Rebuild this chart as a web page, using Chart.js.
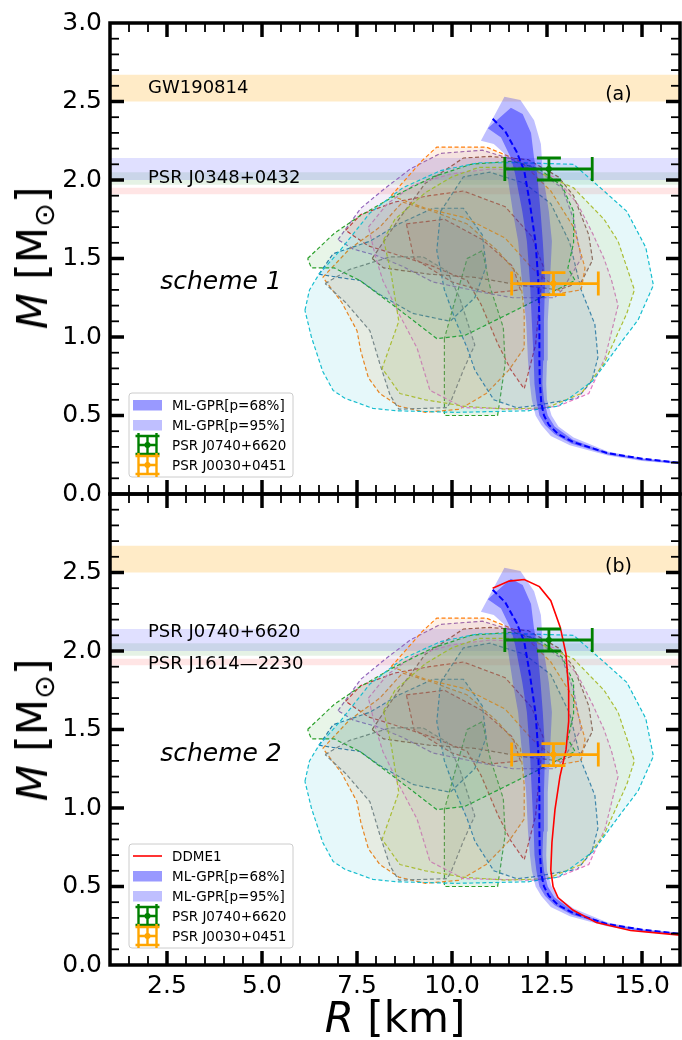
<!DOCTYPE html>
<html>
<head>
<meta charset="utf-8">
<script src="https://cdn.jsdelivr.net/npm/chart.js@4.4.1/dist/chart.umd.min.js"></script>
<style>
  body { margin: 0; background: #fff; width: 682px; height: 1040px; position: relative; overflow: hidden; font-family: "DejaVu Sans", sans-serif; }
  canvas { position: absolute; left: 0; top: 0; }
  .title { position: absolute; font-size: 42px; line-height: 1; white-space: nowrap; color: #000; }
  .ytitle { transform: translate(-50%, -50%) rotate(-90deg); }
  .xtitle { transform: translate(-50%, -50%); }
  .title sub { font-size: 0.68em; line-height: 0; vertical-align: -0.25em; }
</style>
</head>
<body>
<canvas id="panelA" width="682" height="1040"></canvas>
<canvas id="panelB" width="682" height="1040"></canvas>
<div class="title ytitle" style="left:33px;top:258px"><i>M</i> [M<sub>⊙</sub>]</div>
<div class="title ytitle" style="left:33px;top:730px"><i>M</i> [M<sub>⊙</sub>]</div>
<div class="title xtitle" style="left:395px;top:1018px"><i>R</i> [km]</div>
<script>
// ---- axes ----
const X_MIN = 1, X_MAX = 16;
const xTicks = [2.5, 5.0, 7.5, 10.0, 12.5, 15.0];
const yTicks = [0.0, 0.5, 1.0, 1.5, 2.0, 2.5, 3.0];

// ---- horizontal mass bands ----
const bandNames = ['GW190814', 'PSR J0740+6620', 'PSR J0348+0432', 'PSR J1614—2230'];
const bandLo = [2.50, 2.00, 1.97, 1.91];
const bandHi = [2.67, 2.14, 2.05, 1.95];

// ---- NICER points (R, M with errors) ----
const psrNames = ['PSR J0740+6620', 'PSR J0030+0451'];
const psrR   = [12.55, 12.67];
const psrRlo = [11.39, 11.57];
const psrRhi = [13.69, 13.85];
const psrM   = [2.07, 1.34];
const psrMlo = [2.00, 1.27];
const psrMhi = [2.14, 1.41];

// ---- ML-GPR band edges [R, M] ----
const band95Left  = [[10.76,2.25],[11.1,2.23],[11.37,2.17],[11.45,2.04],[11.6,1.8],[11.74,1.61],[11.84,1.36],[11.95,1.1],[12.0,0.85],[12.05,0.70],[12.1,0.60],[12.2,0.50],[12.35,0.44],[12.6,0.37],[13.1,0.31],[14.1,0.245],[15.0,0.21],[16.0,0.19]];
const band95Right = [[11.38,2.53],[11.8,2.51],[12.16,2.38],[12.34,2.23],[12.39,2.04],[12.55,1.8],[12.63,1.61],[12.58,1.36],[12.52,1.1],[12.5,0.85],[12.48,0.70],[12.5,0.60],[12.62,0.50],[12.8,0.43],[13.2,0.36],[14.1,0.27],[15.0,0.23],[16.0,0.205]];
const band68Left  = [[10.94,2.33],[11.29,2.27],[11.55,2.14],[11.66,2.04],[11.85,1.8],[11.97,1.61],[12.05,1.36],[12.1,1.1],[12.15,0.85],[12.17,0.70],[12.22,0.60],[12.3,0.50],[12.45,0.44],[12.7,0.38],[13.15,0.32],[14.1,0.252],[15.0,0.215],[16.0,0.193]];
const band68Right = [[11.55,2.46],[11.86,2.42],[12.08,2.30],[12.16,2.14],[12.24,2.04],[12.33,1.8],[12.39,1.61],[12.45,1.36],[12.42,1.1],[12.4,0.85],[12.38,0.70],[12.42,0.60],[12.52,0.50],[12.7,0.43],[13.18,0.345],[14.1,0.263],[15.0,0.225],[16.0,0.2]];
const mlMid = [[11.07,2.39],[11.4,2.31],[11.7,2.18],[11.9,2.06],[12.05,1.85],[12.2,1.6],[12.27,1.36],[12.3,1.1],[12.3,0.85],[12.31,0.72],[12.35,0.58],[12.42,0.50],[12.55,0.44],[12.8,0.38],[13.2,0.33],[14.1,0.26],[15.0,0.225],[16.0,0.198]];

// ---- DDME1 M-R curve ----
const ddme1 = [[11.07,2.40],[11.5,2.445],[11.9,2.455],[12.3,2.41],[12.6,2.32],[12.85,2.15],[13.0,1.98],[13.07,1.75],[13.07,1.55],[13.0,1.37],[12.84,1.20],[12.71,0.99],[12.63,0.78],[12.6,0.605],[12.66,0.50],[12.79,0.43],[13.18,0.35],[13.8,0.27],[14.7,0.22],[16.0,0.19]];

// ---- EOS contours [R, M] ----
const cCyan   = [[6.13,1.17],[6.25,1.30],[6.5,1.40],[7.05,1.55],[7.84,1.79],[8.7,1.95],[9.7,2.06],[10.7,2.11],[11.8,2.11],[13.2,2.10],[14.0,1.93],[14.6,1.80],[15.1,1.57],[15.3,1.33],[14.9,1.11],[14.4,0.95],[13.7,0.72],[12.8,0.56],[12.0,0.53],[10.1,0.52],[8.55,0.53],[7.92,0.545],[7.18,0.61],[6.87,0.66],[6.6,0.78],[6.3,1.0]];
const cGreen  = [[6.2,1.50],[6.9,1.66],[7.5,1.76],[8.5,1.90],[9.5,2.02],[10.5,2.10],[11.6,2.12],[12.3,2.07],[12.9,1.96],[13.2,1.80],[13.2,1.60],[13.05,1.44],[13.24,1.36],[11.84,1.19],[10.34,1.01],[9.6,0.99],[8.63,1.17],[7.58,1.36],[6.9,1.44],[6.3,1.44]];
const cGreen2 = [[9.8,0.99],[9.8,0.50],[11.2,0.50],[11.4,0.83],[11.35,1.06],[11.0,1.32],[10.8,1.55],[10.4,1.50],[10.1,1.25]];
const cOrange = [[6.6,1.38],[7.3,1.56],[8.1,1.70],[8.7,1.86],[9.5,1.80],[10.4,1.72],[11.2,1.55],[11.8,1.38],[11.9,1.15],[11.9,0.93],[11.5,0.79],[10.9,0.64],[10.2,0.54],[9.3,0.52],[8.6,0.56],[8.1,0.64],[7.8,0.74],[7.6,0.91],[7.5,1.04],[7.1,1.22]];
const cOrange2 = [[8.4,1.90],[9.2,2.12],[9.6,2.21],[10.9,2.21],[11.8,2.12],[12.6,1.93],[13.2,1.70],[13.5,1.44],[13.4,1.30],[12.9,1.28],[12.1,1.44],[11.4,1.63],[10.34,1.76],[9.3,1.82]];
const cPurple = [[7.0,1.62],[7.6,1.82],[8.2,1.94],[8.9,2.07],[9.7,2.17],[10.8,2.19],[12.0,2.10],[12.9,1.95],[13.2,1.75],[13.4,1.50],[12.9,1.30],[12.7,1.25],[11.6,1.25],[10.9,1.28],[9.5,1.35],[8.7,1.45],[8.0,1.52],[7.4,1.56]];
const cBrown  = [[7.9,1.50],[8.6,1.75],[9.3,1.98],[10.3,2.14],[11.0,2.15],[12.0,2.13],[12.8,2.02],[13.2,1.90],[13.6,1.65],[13.7,1.49],[13.4,1.35],[12.8,1.30],[11.8,1.33],[10.6,1.38],[9.4,1.40],[8.2,1.44]];
const cRed    = [[7.2,1.68],[7.6,1.78],[8.5,1.86],[9.4,1.90],[10.3,1.93],[11.4,1.83],[12.1,1.64],[12.4,1.45],[12.3,1.21],[12.2,0.95],[11.9,0.67],[11.55,0.79],[11.2,0.96],[10.76,1.21],[10.4,1.36],[9.5,1.45],[8.6,1.52],[7.8,1.58]];
const cRed2   = [[8.8,1.72],[9.8,1.75],[10.8,1.62],[11.6,1.45],[11.8,1.30],[11.0,1.28],[10.0,1.35],[9.0,1.50]];
const cBlue   = [[9.7,1.8],[10.3,2.02],[11.0,2.05],[11.9,1.98],[12.6,1.85],[13.1,1.60],[13.3,1.40],[13.4,1.30],[13.76,1.08],[13.84,0.87],[13.68,0.72],[13.3,0.61],[12.1,0.56],[11.7,0.55],[11.1,0.60],[10.6,0.79],[10.4,0.93],[10.1,1.1],[9.8,1.3],[9.6,1.55]];
const cBlue2  = [[6.5,1.40],[6.87,1.53],[7.84,1.61],[8.6,1.72],[9.5,1.82],[10.3,1.82],[10.8,1.65],[10.9,1.45],[10.6,1.25],[9.95,1.10],[8.97,1.15],[8.1,1.27],[7.58,1.36],[7.0,1.38]];
const cGray   = [[6.66,1.34],[7.3,1.43],[8.37,1.51],[9.24,1.51],[9.87,1.42],[10.2,1.25],[10.6,0.95],[10.3,0.79],[9.97,0.59],[9.87,0.55],[8.6,0.54],[8.37,0.63],[8.1,0.83],[7.84,1.04],[7.2,1.22]];
const cPink   = [[7.8,1.70],[8.3,1.85],[9.0,1.97],[10.0,2.04],[11.0,2.07],[12.0,2.06],[12.7,2.02],[13.3,1.85],[13.7,1.66],[14.0,1.50],[14.2,1.36],[14.37,1.20],[14.03,0.87],[13.6,0.64],[12.8,0.56],[12.1,0.54],[10.3,0.55],[9.42,0.66],[9.08,0.93],[8.6,1.15],[8.18,1.36],[8.0,1.50]];
const cOlive  = [[8.2,1.62],[8.5,1.75],[9.3,1.92],[10.0,2.02],[10.7,2.08],[12.0,2.08],[13.2,1.95],[14.0,1.75],[14.37,1.61],[14.8,1.30],[14.6,1.15],[14.0,0.83],[13.4,0.64],[12.5,0.55],[11.4,0.54],[10.3,0.56],[9.3,0.60],[8.63,0.64],[8.16,0.80],[8.6,1.1],[8.4,1.4]];

/* =========================
STYLES
========================= */
const bandColors = ['rgba(255,165,0,0.22)', 'rgba(0,0,255,0.12)', 'rgba(0,128,0,0.10)', 'rgba(255,0,0,0.10)'];
const contours = [
    ['#17becf', cCyan], ['#2ca02c', cGreen], ['#bcbd22', cOlive], ['#e377c2', cPink],
    ['#ff7f0e', cOrange2], ['#9467bd', cPurple], ['#8c564b', cBrown], ['#1f77b4', cBlue],
    ['#7f7f7f', cGray], ['#ff7f0e', cOrange], ['#1f77b4', cBlue2], ['#2ca02c', cGreen2],
    ['#d62728', cRed], ['#d62728', cRed2]
];
const psrColors = ['#008000', '#ffa500'];
const FILL95 = 'rgba(0,0,255,0.25)';
const FILL68 = 'rgba(0,0,255,0.40)';

Chart.defaults.font.family = '"DejaVu Sans", sans-serif';
Chart.defaults.color = '#000';

function hexA(hex, a) {
    const n = parseInt(hex.slice(1), 16);
    return `rgba(${n >> 16},${(n >> 8) & 255},${n & 255},${a})`;
}
function pts(list, close) {
    const p = list.map(([x, y]) => ({ x, y }));
    if (close) p.push(p[0]);
    return p;
}

function buildDatasets(withDDME) {
    const ds = [];
    bandLo.forEach((lo, i) => {
        ds.push({
            data: pts([[X_MIN, lo], [X_MAX, lo], [X_MAX, bandHi[i]], [X_MIN, bandHi[i]]], true),
            backgroundColor: bandColors[i], borderColor: 'transparent', borderWidth: 0,
            fill: 'shape', order: 100
        });
    });
    contours.forEach(([c, list]) => {
        ds.push({
            data: pts(list, true),
            borderColor: c, backgroundColor: hexA(c, 0.11), borderWidth: 1.2,
            borderDash: [4, 2.5], fill: 'shape', order: 50
        });
    });
    ds.push({
        data: pts(band95Left.concat(band95Right.slice().reverse()), true),
        backgroundColor: FILL95, borderColor: 'transparent', borderWidth: 0, fill: 'shape', order: 30
    });
    ds.push({
        data: pts(band68Left.concat(band68Right.slice().reverse()), true),
        backgroundColor: FILL68, borderColor: 'transparent', borderWidth: 0, fill: 'shape', order: 29
    });
    ds.push({ data: pts(mlMid), borderColor: '#0000ff', borderWidth: 2, borderDash: [6, 3], fill: false, order: 20 });
    if (withDDME) {
        ds.push({ data: pts(ddme1), borderColor: '#ff0000', borderWidth: 1.6, fill: false, order: 10 });
    }
    return ds;
}

// bars: half lengths hx/hy from the centre, caps of half length cap
function drawErr(ctx, cx, cy, x0, x1, y0, y1, cap, color, lw) {
    ctx.strokeStyle = color;
    ctx.lineWidth = lw;
    ctx.setLineDash([]);
    ctx.beginPath();
    ctx.moveTo(x0, cy); ctx.lineTo(x1, cy);
    ctx.moveTo(cx, y0); ctx.lineTo(cx, y1);
    ctx.moveTo(x0, cy - cap); ctx.lineTo(x0, cy + cap);
    ctx.moveTo(x1, cy - cap); ctx.lineTo(x1, cy + cap);
    ctx.moveTo(cx - cap, y0); ctx.lineTo(cx + cap, y0);
    ctx.moveTo(cx - cap, y1); ctx.lineTo(cx + cap, y1);
    ctx.stroke();
    ctx.fillStyle = color;
    ctx.beginPath(); ctx.arc(cx, cy, 3, 0, 2 * Math.PI); ctx.fill();
}

// decorations: error bars, notes, frame with inward ticks, legend
const decorPlugin = {
    id: 'decor',
    afterDatasetsDraw(chart, args, opts) {
        const { ctx, chartArea: a, scales: { x, y } } = chart;
        ctx.save();

        // error bars
        psrR.forEach((r, i) => {
            drawErr(ctx, x.getPixelForValue(r), y.getPixelForValue(psrM[i]),
                x.getPixelForValue(psrRlo[i]), x.getPixelForValue(psrRhi[i]),
                y.getPixelForValue(psrMhi[i]), y.getPixelForValue(psrMlo[i]),
                12, psrColors[i], 2.8);
        });

        // notes
        ctx.fillStyle = '#000';
        ctx.textBaseline = 'middle';
        opts.notes.forEach(n => {
            ctx.font = n.font;
            ctx.textAlign = n.align;
            ctx.fillText(n.text, x.getPixelForValue(n.r), y.getPixelForValue(n.m));
        });

        // frame + ticks (inward, all sides)
        ctx.strokeStyle = '#000';
        const seg = (x0, y0, x1, y1, w) => { ctx.lineWidth = w; ctx.beginPath(); ctx.moveTo(x0, y0); ctx.lineTo(x1, y1); ctx.stroke(); };
        for (let v = 1.5; v < X_MAX; v += 0.5) {
            const major = xTicks.includes(v);
            const L = major ? 14 : 9, w = major ? 3.5 : 1.8;
            const p = x.getPixelForValue(v);
            seg(p, a.bottom, p, a.bottom - L, w);
            seg(p, a.top, p, a.top + L, w);
        }
        for (let k = 1; k < 30; k++) {
            const v = k / 10;
            const major = k % 5 === 0;
            const L = major ? 14 : 9, w = major ? 3.5 : 1.8;
            const p = y.getPixelForValue(v);
            seg(a.left, p, a.left + L, p, w);
            seg(a.right, p, a.right - L, p, w);
        }
        ctx.lineWidth = 3.5;
        ctx.strokeRect(a.left, a.top, a.right - a.left, a.bottom - a.top);

        // legend
        const items = opts.legend;
        const bx = a.left + 19, bw = 164, bh = items.length * 20 + 4;
        const by = a.bottom - 17 - bh;
        ctx.fillStyle = 'rgba(255,255,255,0.85)';
        ctx.strokeStyle = '#cccccc';
        ctx.lineWidth = 1;
        ctx.beginPath();
        ctx.roundRect(bx, by, bw, bh, 3);
        ctx.fill(); ctx.stroke();
        ctx.font = '13.5px "DejaVu Sans"';
        ctx.textAlign = 'left';
        items.forEach((it, i) => {
            const cy = by + 12 + i * 20;
            const sx = bx + 4, sw = 29, cx = sx + sw / 2;
            if (it.kind === 'line') {
                ctx.strokeStyle = it.color;
                seg(sx, cy, sx + sw, cy, 1.6);
            } else if (it.kind === 'patch') {
                ctx.fillStyle = it.color;
                ctx.fillRect(sx, cy - 5, sw, 10.5);
            } else {
                drawErr(ctx, cx, cy, cx - 9, cx + 9, cy - 9, cy + 9, 12, it.color, 2.4);
            }
            ctx.fillStyle = '#000';
            ctx.fillText(it.label, bx + 43, cy + 1);
        });
        ctx.restore();
    }
};

function makePanel(id, cfg) {
    new Chart(document.getElementById(id), {
        type: 'line',
        data: { datasets: buildDatasets(cfg.ddme) },
        options: {
            responsive: false,
            animation: false,
            devicePixelRatio: 1,
            events: [],
            layout: { padding: { left: 0, right: 2, top: cfg.top, bottom: cfg.bottom } },
            elements: { point: { radius: 0, hitRadius: 0 }, line: { tension: 0 } },
            plugins: {
                legend: { display: false },
                tooltip: { enabled: false },
                decor: { notes: cfg.notes, legend: cfg.legend }
            },
            scales: {
                x: {
                    type: 'linear', min: X_MIN, max: X_MAX,
                    afterBuildTicks: s => { s.ticks = xTicks.map(v => ({ value: v })); },
                    afterFit: s => { s.height = cfg.xHeight; },
                    ticks: { display: cfg.xLabels, font: { size: 25 }, padding: 6, maxRotation: 0, callback: v => v.toFixed(1) },
                    grid: { display: false, drawTicks: false },
                    border: { display: false }
                },
                y: {
                    type: 'linear', min: 0, max: 3,
                    afterBuildTicks: s => { s.ticks = yTicks.map(v => ({ value: v })); },
                    afterFit: s => { s.width = 110; },
                    ticks: { font: { size: 25 }, padding: 8, callback: v => (cfg.hideTop && v === 3 ? '' : v.toFixed(1)) },
                    grid: { display: false, drawTicks: false },
                    border: { display: false }
                }
            }
        },
        plugins: [decorPlugin]
    });
}

const errLegend = [
    { kind: 'err', color: psrColors[0], label: psrNames[0] },
    { kind: 'err', color: psrColors[1], label: psrNames[1] }
];
const gprLegend = [
    { kind: 'patch', color: FILL68, label: 'ML-GPR[p=68%]' },
    { kind: 'patch', color: FILL95, label: 'ML-GPR[p=95%]' }
];

makePanel('panelA', {
    top: 22, bottom: 546, xHeight: 0, xLabels: false, hideTop: false, ddme: false,
    notes: [
        { text: bandNames[0], r: 2.0, m: 2.585, font: '18px "DejaVu Sans"', align: 'left' },
        { text: bandNames[2], r: 2.0, m: 2.01, font: '18px "DejaVu Sans"', align: 'left' },
        { text: '(a)', r: 14.38, m: 2.54, font: '19px "DejaVu Sans"', align: 'center' },
        { text: 'scheme 1', r: 3.92, m: 1.35, font: 'italic 25px "DejaVu Sans"', align: 'center' }
    ],
    legend: gprLegend.concat(errLegend)
});

makePanel('panelB', {
    top: 494, bottom: 0, xHeight: 75, xLabels: true, hideTop: true, ddme: true,
    notes: [
        { text: bandNames[1], r: 2.0, m: 2.12, font: '18px "DejaVu Sans"', align: 'left' },
        { text: bandNames[3], r: 2.0, m: 1.917, font: '18px "DejaVu Sans"', align: 'left' },
        { text: '(b)', r: 14.38, m: 2.535, font: '19px "DejaVu Sans"', align: 'center' },
        { text: 'scheme 2', r: 3.92, m: 1.34, font: 'italic 25px "DejaVu Sans"', align: 'center' }
    ],
    legend: [{ kind: 'line', color: '#ff0000', label: 'DDME1' }].concat(gprLegend, errLegend)
});
</script>
</body>
</html>
